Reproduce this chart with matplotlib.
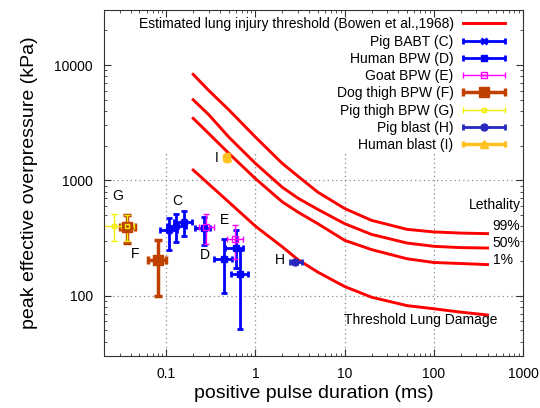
import numpy as np
import matplotlib.pyplot as plt
from matplotlib.container import ErrorbarContainer
from matplotlib.legend_handler import HandlerErrorbar

plt.rcParams['font.family'] = ['Liberation Sans', 'DejaVu Sans']

# Bowen et al. (1968) curves, duration (ms) vs pressure (kPa)
t_bowen = [0.2, 0.3, 0.5, 1, 2, 3, 5, 10, 20, 50, 100, 200, 400]
p_99 = [8300, 6000, 4100, 2370, 1400, 1085, 790, 570, 450, 376, 357, 349, 345]
p_50 = [5000, 3700, 2380, 1400, 870, 700, 560, 421, 340, 286, 268, 261, 259]
p_1 = [3450, 2540, 1720, 1034, 650, 530, 421, 302, 251, 209, 194, 190, 186]
p_thr = [1230, 927, 650, 400, 265, 205, 160, 120, 97, 82, 77, 72, 68]

# data points: x, y, x low, x high, y low, y high
c_x = [0.108, 0.129, 0.157]
c_y = [368, 399, 433]
c_xlo = [0.086, 0.103, 0.123]
c_xhi = [0.133, 0.167, 0.195]
c_ylo = [247, 290, 327]
c_yhi = [468, 507, 544]

d_x = [0.265, 0.439, 0.60, 0.675]
d_y = [385, 209, 258, 155]
d_xlo = [0.208, 0.34, 0.458, 0.53]
d_xhi = [0.311, 0.544, 0.72, 0.82]
d_ylo = [273, 105.5, 175, 51.8]
d_yhi = [481, 308, 368, 247]

e_x = [0.28, 0.593]
e_y = [395, 312]
e_xlo = [0.23, 0.478]
e_xhi = [0.34, 0.73]
e_ylo = [282, 209]
e_yhi = [514, 407]

f_x = [0.0363, 0.080]
f_y = [394, 205]
f_xlo = [0.030, 0.0624]
f_xhi = [0.044, 0.099]
f_ylo = [286, 99.4]
f_yhi = [504, 306]

g_x = [0.0262, 0.0363]
g_y = [400, 398]
g_xlo = [0.0202, 0.031]
g_xhi = [0.033, 0.043]
g_ylo = [297, 300]
g_yhi = [507, 500]

h_x = [2.8]
h_y = [196]
h_xlo = [2.45]
h_xhi = [3.3]
h_ylo = [188]
h_yhi = [204]

i_x = [0.475]
i_y = [1580]
i_xlo = [0.44]
i_xhi = [0.51]
i_ylo = [1480]
i_yhi = [1700]


def err(v, lo, hi):
    v = np.array(v)
    return [v - np.array(lo), np.array(hi) - v]


fig = plt.figure(figsize=(5.4, 4.08), dpi=100)
ax = fig.add_axes([0.1926, 0.1275, 0.7759, 0.848])
ax.set_xscale('log')
ax.set_yscale('log')
ax.set_xlim(0.02, 1000)
ax.set_ylim(30, 30000)

# grid (hidden behind the key at the top)
gkw = dict(color='#888888', lw=0.9, ls=(0, (1, 2.5)), zorder=0.5)
for yv in [100, 1000]:
    ax.axhline(yv, **gkw)
for xv in [0.1, 1, 10, 100]:
    ax.axvline(xv, ymax=0.587, **gkw)

ax.plot(t_bowen, p_99, color='red', lw=2.1, label='Estimated lung injury threshold (Bowen et al.,1968)')
ax.plot(t_bowen, p_50, color='red', lw=2.1)
ax.plot(t_bowen, p_1, color='red', lw=2.1)
ax.plot(t_bowen, p_thr, color='red', lw=2.1)

ax.errorbar(c_x, c_y, xerr=err(c_x, c_xlo, c_xhi), yerr=err(c_y, c_ylo, c_yhi),
            fmt='x', color='#0000ff', ms=5, mew=2, elinewidth=2, capsize=2.5, capthick=2,
            label='Pig BABT (C)')
ax.errorbar(d_x, d_y, xerr=err(d_x, d_xlo, d_xhi), yerr=err(d_y, d_ylo, d_yhi),
            fmt='s', color='#0000ff', ms=5, elinewidth=2, capsize=2.5, capthick=2,
            label='Human BPW (D)')
ax.errorbar(e_x, e_y, xerr=err(e_x, e_xlo, e_xhi), yerr=err(e_y, e_ylo, e_yhi),
            fmt='s', color='#ff00ff', mfc='none', ms=4, mew=1, elinewidth=1, capsize=2.5, capthick=1,
            label='Goat BPW (E)')
ax.errorbar(f_x, f_y, xerr=err(f_x, f_xlo, f_xhi), yerr=err(f_y, f_ylo, f_yhi),
            fmt='s', color='#c04000', ms=6.5, elinewidth=2.5, capsize=3, capthick=2.5,
            label='Dog thigh BPW (F)')
ax.errorbar(g_x, g_y, xerr=err(g_x, g_xlo, g_xhi), yerr=err(g_y, g_ylo, g_yhi),
            fmt='s', color='#f0f000', mfc='none', ms=3, mew=1, elinewidth=1, capsize=2.5, capthick=1,
            label='Pig thigh BPW (G)')
ax.errorbar(h_x, h_y, xerr=err(h_x, h_xlo, h_xhi), yerr=err(h_y, h_ylo, h_yhi),
            fmt='o', color='#2828c0', ms=5, elinewidth=2, capsize=2.5, capthick=2,
            label='Pig blast (H)')
ax.errorbar(i_x, i_y, xerr=err(i_x, i_xlo, i_xhi), yerr=err(i_y, i_ylo, i_yhi),
            fmt='^', color='#ffc020', ms=6, elinewidth=2.5, capsize=2.5, capthick=2.5,
            label='Human blast (I)')

# point labels
fs = 10
ax.text(0.0282, 727, 'G', ha='center', va='center', fontsize=fs)
ax.text(0.1318, 661, 'C', ha='center', va='center', fontsize=fs)
ax.text(0.045, 231, 'F', ha='center', va='center', fontsize=fs)
ax.text(0.2735, 224, 'D', ha='center', va='center', fontsize=fs)
ax.text(0.446, 456, 'E', ha='center', va='center', fontsize=fs)
ax.text(1.89, 205, 'H', ha='center', va='center', fontsize=fs)
ax.text(0.37, 1560, 'I', ha='center', va='center', fontsize=fs)
ax.text(480, 607, 'Lethality', ha='center', va='center', fontsize=fs)
ax.text(459, 399, '99%', ha='left', va='center', fontsize=fs)
ax.text(459, 286, '50%', ha='left', va='center', fontsize=fs)
ax.text(459, 205, '1%', ha='left', va='center', fontsize=fs)
ax.text(71.7, 61, 'Threshold Lung Damage', ha='center', va='center', fontsize=fs)

ax.legend(loc='upper right', bbox_to_anchor=(0.957, 0.979), frameon=False, markerfirst=False,
          fontsize=10, handlelength=3, handletextpad=0.7, labelspacing=0.235,
          borderpad=0, borderaxespad=0,
          handler_map={ErrorbarContainer: HandlerErrorbar(xerr_size=1.5, yerr_size=0)})

ax.tick_params(which='both', direction='in', top=True, right=True, color='#333333')
ax.tick_params(which='major', length=5, pad=8, labelsize=10)
ax.tick_params(which='minor', length=2.5)
ax.set_xticks([0.1, 1, 10, 100, 1000])
ax.set_xticklabels(['0.1', '1', '10', '100', '1000'])
ax.set_yticks([100, 1000, 10000])
ax.set_yticklabels(['100', '1000', '10000'])
for s in ax.spines.values():
    s.set_color('#333333')

ax.set_xlabel('positive pulse duration (ms)', fontsize=14, labelpad=3)
ax.set_ylabel('peak effective overpressure (kPa)', fontsize=14, labelpad=12)

fig.savefig('out.png', dpi=100)
